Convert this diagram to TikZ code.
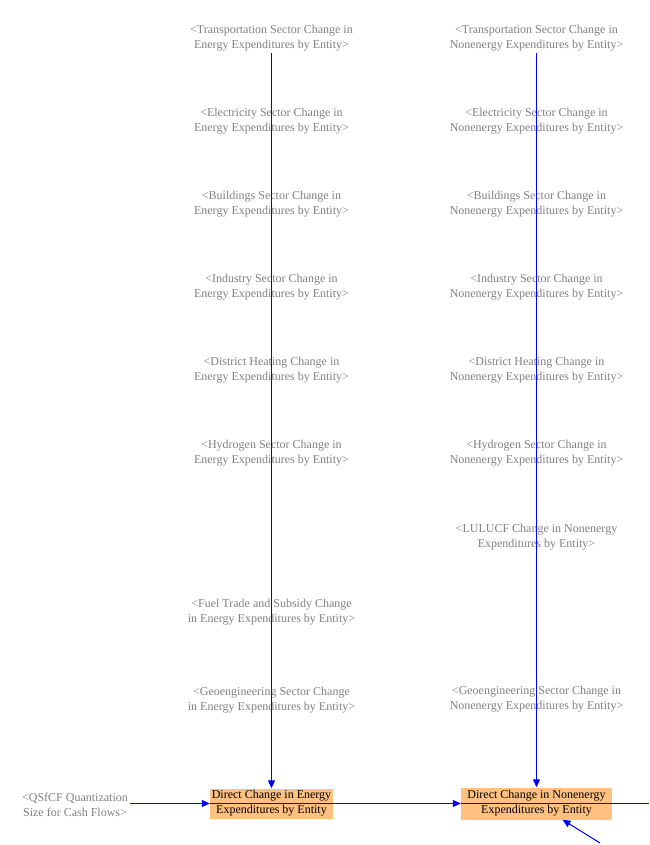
\documentclass[tikz,border=0pt]{standalone}
\usepackage{fontspec}
\setmainfont{Liberation Serif}
\usetikzlibrary{arrows.meta}
\definecolor{boxorange}{RGB}{255,192,128}
\definecolor{linkblue}{RGB}{0,0,255}
\begin{document}
\begin{tikzpicture}[x=1pt, y=-1pt, node distance={83pt},
	var/.style = {text=gray, font=\fontsize{12}{15}\selectfont, align=center, inner sep=2pt},
	aux/.style = {fill=boxorange, font=\fontsize{12}{15}\selectfont, align=center, inner sep=1pt},
	link/.style = {-{Triangle[length=8pt,width=7pt]}}]
	\useasboundingbox (0,0) rectangle (649,845);
	% energy column
	\node[var] (t1) at (271.5,38) {<Transportation Sector Change in\\Energy Expenditures by Entity>};
	\node[var] (e1) [below of=t1] {<Electricity Sector Change in\\Energy Expenditures by Entity>};
	\node[var] (b1) [below of=e1] {<Buildings Sector Change in\\Energy Expenditures by Entity>};
	\node[var] (i1) [below of=b1] {<Industry Sector Change in\\Energy Expenditures by Entity>};
	\node[var] (h1) [below of=i1] {<District Heating Change in\\Energy Expenditures by Entity>};
	\node[var] (y1) [below of=h1] {<Hydrogen Sector Change in\\Energy Expenditures by Entity>};
	\node[var] (f1) at (271.5,612) {<Fuel Trade and Subsidy Change\\in Energy Expenditures by Entity>};
	\node[var] (g1) at (271.5,700) {<Geoengineering Sector Change\\in Energy Expenditures by Entity>};
	% nonenergy column
	\node[var] (t2) at (536.5,38) {<Transportation Sector Change in\\Nonenergy Expenditures by Entity>};
	\node[var] (e2) [below of=t2] {<Electricity Sector Change in\\Nonenergy Expenditures by Entity>};
	\node[var] (b2) [below of=e2] {<Buildings Sector Change in\\Nonenergy Expenditures by Entity>};
	\node[var] (i2) [below of=b2] {<Industry Sector Change in\\Nonenergy Expenditures by Entity>};
	\node[var] (h2) [below of=i2] {<District Heating Change in\\Nonenergy Expenditures by Entity>};
	\node[var] (y2) [below of=h2] {<Hydrogen Sector Change in\\Nonenergy Expenditures by Entity>};
	\node[var] (l2) at (536.5,537) {<LULUCF Change in Nonenergy\\Expenditures by Entity>};
	\node[var] (g2) at (536.5,699) {<Geoengineering Sector Change in\\Nonenergy Expenditures by Entity>};
	% bottom row
	\node[var] (qs) at (75,805) {<QSfCF Quantization\\Size for Cash Flows>};
	\node[aux, minimum width=123pt, minimum height=30pt] (d1) at (271.5,803.5) {Direct Change in Energy\\Expenditures by Entity};
	\node[aux, minimum width=151pt, minimum height=32pt] (d2) at (536.5,803.5) {Direct Change in Nonenergy\\Expenditures by Entity};
	\coordinate (edge) at (649,803.5);
	\coordinate (src) at (600,843);
	\begin{scope}[linkblue, line width=1pt]
		\draw[link] (src) -- (d2);
		\draw (d2.west) -- (edge);
		\draw[link] (d1.west) -- (d2);
		\draw[link] (qs.east |- d1) -- (d1);
		\draw[link] (t2) -- (d2);
		\draw[link] (t1) -- (d1);
	\end{scope}
\end{tikzpicture}
\end{document}
